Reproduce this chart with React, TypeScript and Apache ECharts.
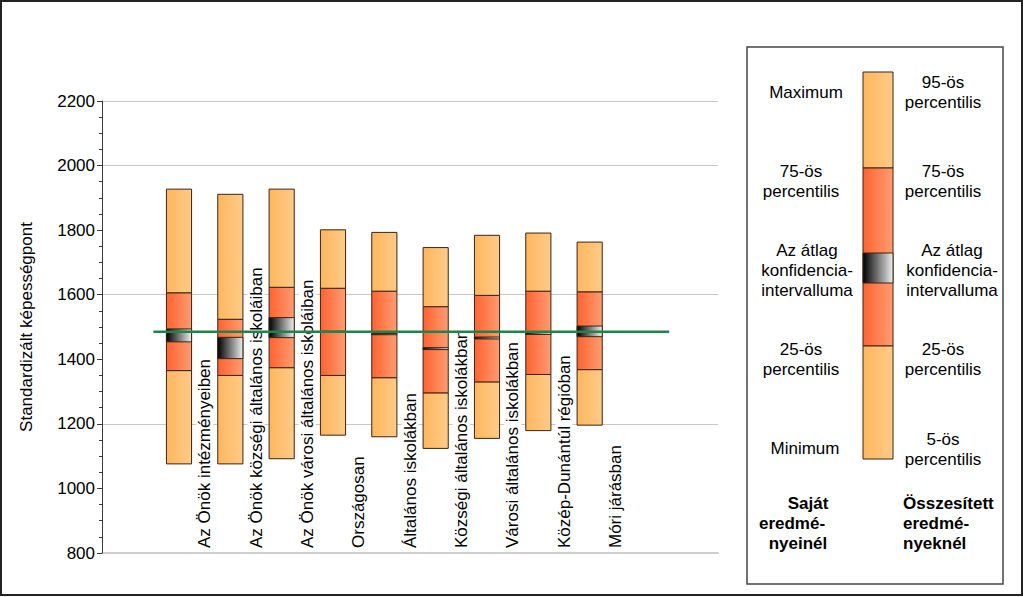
import React, { useEffect, useRef } from "react";
import * as echarts from "echarts";

const categories = [
  "Az Önök intézményeiben",
  "Az Önök községi általános iskoláiban",
  "Az Önök városi általános iskoláiban",
  "Országosan",
  "Általános iskolákban",
  "Községi általános iskolákban",
  "Városi általános iskolákban",
  "Közép-Dunántúl régióban",
  "Móri járásban",
];
const minimums = [1076, 1076, 1092, 1165, 1160, 1124, 1155, 1179, 1196];
const p25s = [1365, 1350, 1374, 1350, 1343, 1296, 1330, 1353, 1368];
const ciLows = [1454, 1402, 1467, 1483, 1476, 1430, 1463, 1477, 1470];
const ciHighs = [1494, 1468, 1529, 1487, 1480, 1436, 1469, 1483, 1503];
const p75s = [1606, 1524, 1623, 1620, 1611, 1563, 1598, 1611, 1609];
const maximums = [1927, 1911, 1927, 1801, 1793, 1746, 1784, 1791, 1763];
const nationalAverage = 1485;
const nationalLabel = "Országos\nátlag";
const yAxisName = "Standardizált képességpont";

const FONT = "'Liberation Sans', Arial, sans-serif";

const lightGrad = () =>
  new echarts.graphic.LinearGradient(0, 0, 1, 0, [
    { offset: 0, color: "#FFB65E" },
    { offset: 1, color: "#FFCB88" },
  ]);
const redGrad = () =>
  new echarts.graphic.LinearGradient(0, 0, 1, 0, [
    { offset: 0, color: "#FF6330" },
    { offset: 1, color: "#FF9C72" },
  ]);
const ciGrad = () =>
  new echarts.graphic.LinearGradient(0, 0, 1, 0, [
    { offset: 0, color: "#000000" },
    { offset: 1, color: "#EEEEEE" },
  ]);

export default function App() {
  const ref = useRef<HTMLDivElement>(null);
  useEffect(() => {
    if (!ref.current) return;
    const chart = echarts.init(ref.current, undefined, { renderer: "svg" });
    const boxData = categories.map((_, i) => [
      i,
      minimums[i],
      p25s[i],
      ciLows[i],
      ciHighs[i],
      p75s[i],
      maximums[i],
    ]);
    const seg = (x: number, w: number, yTop: number, yBot: number, fill: any) => ({
      type: "rect",
      shape: { x: x - w / 2, y: yTop, width: w, height: yBot - yTop },
      style: { fill, stroke: "#3a2412", lineWidth: 1 },
    });
    const txt = (text: string, x: number, y: number, align = "center", bold = false) => ({
      type: "text",
      x,
      y,
      style: {
        text,
        fontSize: 17,
        fontFamily: FONT,
        fontWeight: bold ? "bold" : "normal",
        fill: "#000",
        align,
        verticalAlign: "middle",
        lineHeight: 20,
      },
    });
    const lx = 863, lw = 30;
    const option: any = {
      animation: false,
      backgroundColor: "#fff",
      grid: { left: 102, right: 306, top: 101, bottom: 44 },
      xAxis: {
        type: "value",
        min: -1.5,
        max: 10.5,
        axisLine: { show: true, onZero: false, lineStyle: { color: "#cfcfcf", width: 2 } },
        axisTick: { show: false },
        axisLabel: { show: false },
        splitLine: { show: false },
      },
      yAxis: [
        {
          type: "value",
          min: 800,
          max: 2200,
          interval: 200,
          name: yAxisName,
          nameLocation: "middle",
          nameRotate: 90,
          nameGap: 67,
          nameTextStyle: { fontSize: 17, fontFamily: FONT, color: "#000" },
          axisLine: { show: true, onZero: false, lineStyle: { color: "#3a3a3a", width: 1 } },
          axisTick: { show: true, length: 5, lineStyle: { color: "#3a3a3a" } },
          minorTick: { show: true, splitNumber: 4, length: 3, lineStyle: { color: "#3a3a3a" } },
          axisLabel: {
            fontSize: 17,
            fontFamily: FONT,
            color: "#000",
            margin: 7,
            formatter: (v: number) => String(v),
          },
          splitLine: { show: false },
          z: 4,
        },
        {
          type: "value",
          min: 800,
          max: 2200,
          interval: 400,
          position: "left",
          axisLine: { show: false, onZero: false },
          axisTick: { show: false },
          axisLabel: { show: false },
          splitLine: { show: true, lineStyle: { color: "#c8c8c8", width: 1 } },
        },
      ],
      series: [
        {
          type: "custom",
          z: 2,
          clip: false,
          data: boxData,
          renderItem: (params: any, api: any) => {
            const i = api.value(0);
            const x = api.coord([i, 800])[0];
            const w = api.size([1, 0])[0] * 0.49;
            const py = [1, 2, 3, 4, 5, 6].map((k) => api.coord([i, api.value(k)])[1]);
            const base = api.coord([i + 0.5, 800]);
            return {
              type: "group",
              children: [
                {
                  type: "text",
                  x: base[0],
                  y: base[1] - 5,
                  rotation: Math.PI / 2,
                  style: {
                    text: categories[params.dataIndex],
                    fontSize: 17,
                    fontFamily: FONT,
                    fill: "#000",
                    align: "left",
                    verticalAlign: "middle",
                    backgroundColor: "#fff",
                  },
                },
                seg(x, w, py[1], py[0], lightGrad()),
                seg(x, w, py[4], py[1], redGrad()),
                seg(x, w, py[3], py[2], ciGrad()),
                seg(x, w, py[5], py[4], lightGrad()),
              ],
            };
          },
        },
        {
          type: "line",
          z: 5,
          symbol: "none",
          lineStyle: { color: "#1E8449", width: 2.5 },
          data: [
            [-0.5, nationalAverage],
            {
              value: [9.55, nationalAverage],
              label: {
                show: true,
                position: "top",
                distance: 5,
                formatter: nationalLabel,
                fontSize: 17,
                fontFamily: FONT,
                color: "#000",
                lineHeight: 22,
                align: "center",
              },
            },
          ],
        },
      ],
      graphic: [
        {
          type: "rect",
          shape: { x: 1, y: 1, width: 1021, height: 594 },
          style: { fill: "none", stroke: "#222", lineWidth: 2 },
          silent: true,
        },
        {
          type: "rect",
          shape: { x: 747, y: 47, width: 256, height: 537 },
          style: { fill: "#fff", stroke: "#444", lineWidth: 1.5 },
        },
        { type: "rect", shape: { x: lx, y: 72, width: lw, height: 96 }, style: { fill: lightGrad(), stroke: "#3a2412", lineWidth: 1 } },
        { type: "rect", shape: { x: lx, y: 168, width: lw, height: 178 }, style: { fill: redGrad(), stroke: "#3a2412", lineWidth: 1 } },
        { type: "rect", shape: { x: lx, y: 253, width: lw, height: 30 }, style: { fill: ciGrad(), stroke: "#3a2412", lineWidth: 1 } },
        { type: "rect", shape: { x: lx, y: 346, width: lw, height: 113 }, style: { fill: lightGrad(), stroke: "#3a2412", lineWidth: 1 } },
        txt("Maximum", 806, 92),
        txt("75-ös\npercentilis", 801, 181),
        txt("Az átlag\nkonfidencia-\nintervalluma", 807, 270.5),
        txt("25-ös\npercentilis", 801, 359),
        txt("Minimum", 805, 448),
        txt("Saját", 808, 503, "center", true),
        txt("eredmé-", 792, 523, "center", true),
        txt("nyeinél", 798, 543, "center", true),
        txt("95-ös\npercentilis", 943, 92),
        txt("75-ös\npercentilis", 943, 181),
        txt("Az átlag\nkonfidencia-\nintervalluma", 952, 270.5),
        txt("25-ös\npercentilis", 943, 359),
        txt("5-ös\npercentilis", 943, 449),
        txt("Összesített\neredmé-\nnyeknél", 903, 523, "left", true),
      ],
    };
    chart.setOption(option);
    return () => chart.dispose();
  }, []);
  return (
    <div
      ref={ref}
      style={{ position: "fixed", left: 0, top: 0, width: 1024, height: 597, background: "#fff" }}
    />
  );
}
